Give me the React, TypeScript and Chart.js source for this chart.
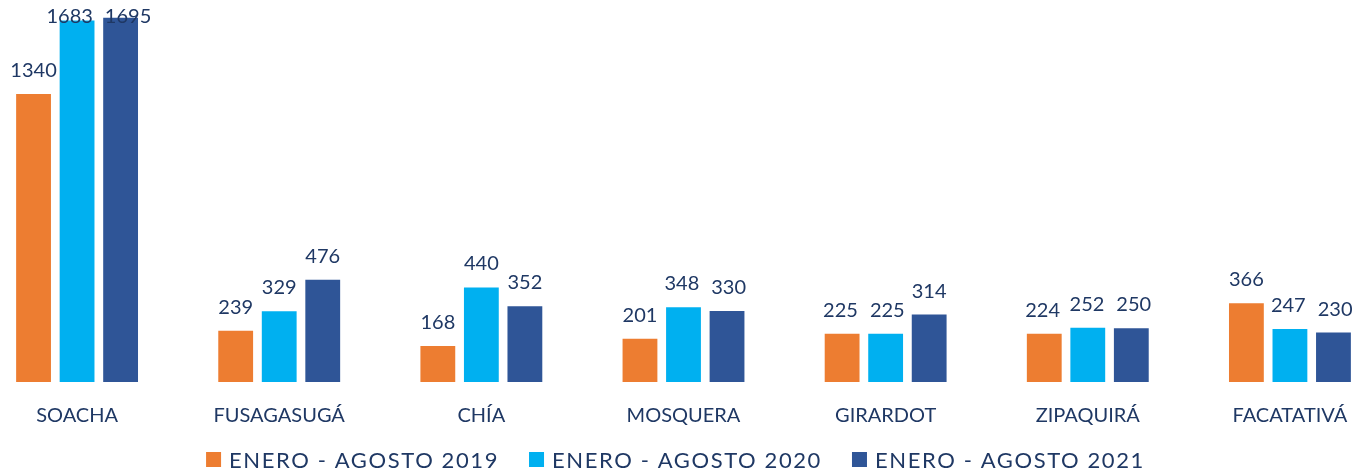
import React, { useEffect, useRef } from 'react';
import { Chart, registerables } from 'chart.js';

Chart.register(...registerables);

const categories = ['SOACHA', 'FUSAGASUGÁ', 'CHÍA', 'MOSQUERA', 'GIRARDOT', 'ZIPAQUIRÁ', 'FACATATIVÁ'];
const seriesNames = ['ENERO - AGOSTO 2019', 'ENERO - AGOSTO 2020', 'ENERO - AGOSTO 2021'];
const values2019 = [1340, 239, 168, 201, 225, 224, 366];
const values2020 = [1683, 329, 440, 348, 225, 252, 247];
const values2021 = [1695, 476, 352, 330, 314, 250, 230];
const seriesColors = ['#ED7D31', '#00B0F0', '#2F5597'];
const yMin = 0;
const yMax = 1778;

const TEXT = '#1F3864';
const FONT = 'Lato, "Noto Sans", sans-serif';

const valueLabels = {
  id: 'valueLabels',
  afterDatasetsDraw(chart: any) {
    const ctx = chart.ctx;
    ctx.save();
    ctx.font = `20px ${FONT}`;
    ctx.fillStyle = TEXT;
    ctx.textAlign = 'center';
    ctx.textBaseline = 'alphabetic';
    const n = chart.data.labels.length;
    const minGap = 12;
    for (let j = 0; j < n; j++) {
      const labels: any[] = [];
      chart.data.datasets.forEach((ds: any, i: number) => {
        const el = chart.getDatasetMeta(i).data[j];
        const text = String(ds.data[j]);
        const y = Math.max(el.y - 17, chart.chartArea.top + 23);
        labels.push({ text, x: el.x, y, w: ctx.measureText(text).width });
      });
      // push apart overlapping labels on the same row
      for (let k = 1; k < labels.length; k++) {
        const a = labels[k - 1];
        const b = labels[k];
        if (Math.abs(a.y - b.y) < 14) {
          const overlap = a.x + a.w / 2 + minGap - (b.x - b.w / 2);
          if (overlap > 0) {
            a.x -= overlap / 2;
            b.x += overlap / 2;
          }
        }
      }
      labels.forEach((l) => ctx.fillText(l.text, l.x, l.y));
    }
    ctx.restore();
  },
};

const bottomLegend = {
  id: 'bottomLegend',
  afterDraw(chart: any) {
    const ctx = chart.ctx;
    ctx.save();
    ctx.font = `22px ${FONT}`;
    (ctx as any).letterSpacing = '1.6px';
    const box = 15;
    const gap = 8;
    const itemGap = 30;
    const items = chart.data.datasets.map((ds: any) => ({
      label: ds.label,
      color: ds.backgroundColor,
      w: ctx.measureText(ds.label).width,
    }));
    const total =
      items.reduce((s: number, it: any) => s + box + gap + it.w, 0) + itemGap * (items.length - 1);
    let x = chart.width / 2 - 8 - total / 2;
    const baseline = 468;
    items.forEach((it: any) => {
      ctx.fillStyle = it.color;
      ctx.fillRect(x, baseline - 16, box, box);
      x += box + gap;
      ctx.fillStyle = TEXT;
      ctx.textAlign = 'left';
      ctx.textBaseline = 'alphabetic';
      ctx.fillText(it.label, x, baseline);
      x += it.w + itemGap;
    });
    ctx.restore();
  },
};

export default function App() {
  const canvasRef = useRef<HTMLCanvasElement | null>(null);

  useEffect(() => {
    if (!canvasRef.current) return;
    const seriesValues = [values2019, values2020, values2021];
    const chart = new Chart(canvasRef.current, {
      type: 'bar',
      data: {
        labels: categories,
        datasets: seriesNames.map((name, i) => ({
          label: name,
          data: seriesValues[i],
          backgroundColor: seriesColors[i],
          borderWidth: 0,
          categoryPercentage: 0.646,
          barPercentage: 0.8,
        })),
      },
      options: {
        animation: false,
        responsive: true,
        maintainAspectRatio: false,
        layout: { padding: { top: 0, bottom: 25, left: 0, right: 0 } },
        scales: {
          x: {
            grid: { display: false, drawTicks: false },
            border: { display: false },
            ticks: {
              font: { family: FONT, size: 20 },
              color: TEXT,
              padding: 22,
              maxRotation: 0,
              autoSkip: false,
            },
          },
          y: { display: false, min: yMin, max: yMax },
        },
        plugins: {
          legend: { display: false },
          tooltip: { enabled: false },
        },
      },
      plugins: [valueLabels, bottomLegend],
    });
    return () => chart.destroy();
  }, []);

  return (
    <div style={{ position: 'absolute', left: 0, top: 0, width: 1365, height: 475, overflow: 'hidden', background: '#fff' }}>
      <div style={{ position: 'absolute', left: -24, top: 0, width: 1415, height: 475 }}>
        <canvas ref={canvasRef} />
      </div>
    </div>
  );
}
